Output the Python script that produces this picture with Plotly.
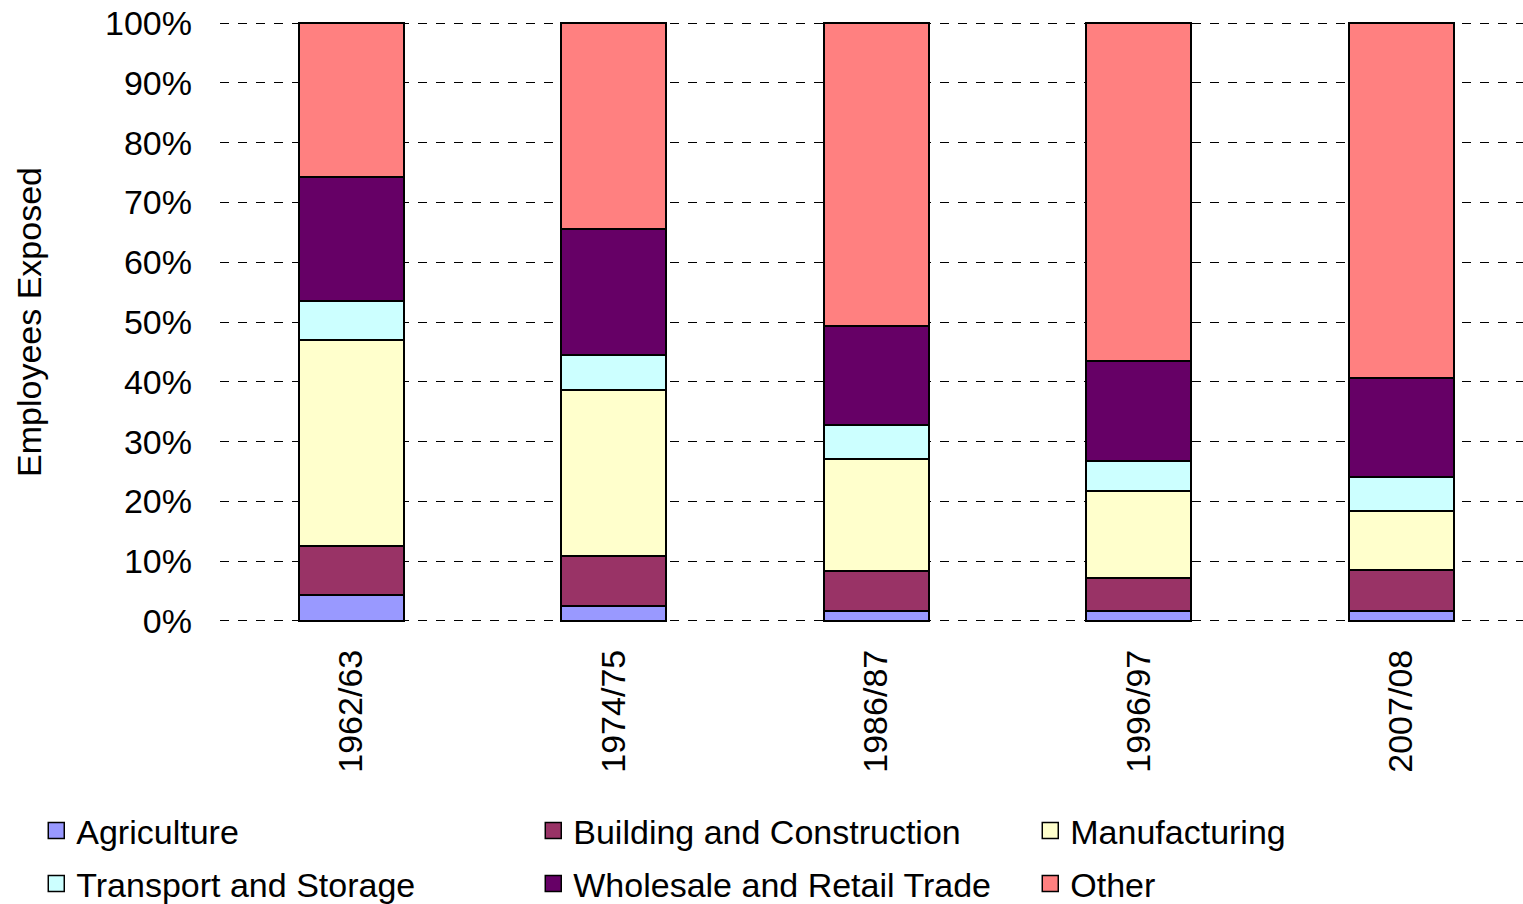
import plotly.graph_objects as go

periods = ["1962/63", "1974/75", "1986/87", "1996/97", "2007/08"]
agriculture = [4.3, 2.5, 1.7, 1.7, 1.7]
building = [8.3, 8.4, 6.6, 5.5, 6.9]
manufacturing = [34.4, 27.8, 18.8, 14.5, 9.8]
transport = [6.5, 5.8, 5.7, 5.1, 5.7]
wholesale = [20.7, 21.0, 16.5, 16.7, 16.5]
other = [25.8, 34.5, 50.7, 56.5, 59.4]
y_ticks = [0, 0.1, 0.2, 0.3, 0.4, 0.5, 0.6, 0.7, 0.8, 0.9, 1.0]

series = [
    ("Agriculture", agriculture, "#9999FF", "legend"),
    ("Building and Construction", building, "#993366", "legend"),
    ("Manufacturing", manufacturing, "#FFFFCC", "legend"),
    ("Transport and Storage", transport, "#CCFFFF", "legend2"),
    ("Wholesale and Retail Trade", wholesale, "#660066", "legend2"),
    ("Other", other, "#FF8080", "legend2"),
]

totals = [sum(v) for v in zip(*[s[1] for s in series])]

fig = go.Figure()
for name, vals, color, lg in series:
    fig.add_trace(go.Bar(
        x=periods,
        y=[v / t for v, t in zip(vals, totals)],
        name=name,
        marker=dict(color=color, line=dict(color="black", width=2)),
        width=0.4,
        showlegend=False,
    ))
for name, vals, color, lg in series:
    fig.add_trace(go.Scatter(
        x=[None], y=[None],
        mode="markers",
        name=name,
        marker=dict(symbol="square", size=16, color=color,
                    line=dict(color="black", width=1.5)),
        legend=lg,
        showlegend=True,
    ))

FONT = "Liberation Sans, Arial, sans-serif"
FS = 34
PLOT_TOP, PLOT_BOTTOM = 19, 625
legend_common = dict(
    orientation="h",
    xanchor="left",
    yanchor="middle",
    x=-0.141,
    entrywidth=452,
    entrywidthmode="pixels",
    font=dict(family=FONT, size=FS, color="black"),
    bgcolor="rgba(0,0,0,0)",
    traceorder="normal",
    borderwidth=0,
)
ph = PLOT_BOTTOM - PLOT_TOP

fig.update_layout(
    width=1523,
    height=904,
    barmode="stack",
    margin=dict(l=220, r=0, t=PLOT_TOP, b=904 - PLOT_BOTTOM, autoexpand=False),
    plot_bgcolor="white",
    paper_bgcolor="white",
    font=dict(family=FONT, size=FS, color="black"),
    showlegend=True,
    legend=dict(legend_common, y=-(831 - PLOT_BOTTOM) / ph),
    legend2=dict(legend_common, y=-(884 - PLOT_BOTTOM) / ph),
    xaxis=dict(
        range=[-0.5, 4.464],
        tickangle=-90,
        showgrid=False,
        showline=False,
        ticks="",
        ticklabelstandoff=17,
        tickfont=dict(size=FS),
        automargin=False,
    ),
    yaxis=dict(
        range=[-0.0067, 1.0067],
        tickvals=y_ticks,
        tickformat=".0%",
        showgrid=True,
        gridcolor="black",
        griddash="dash",
        gridwidth=1,
        zeroline=False,
        showline=False,
        ticks="",
        ticklabelstandoff=27,
        tickfont=dict(size=FS),
        automargin=False,
        title=dict(text="Employees Exposed", standoff=53, font=dict(size=FS)),
    ),
)

fig.write_html(
    "out.html",
    config={"displayModeBar": False},
    post_script="document.body.style.margin='0';document.body.style.padding='0';",
)
